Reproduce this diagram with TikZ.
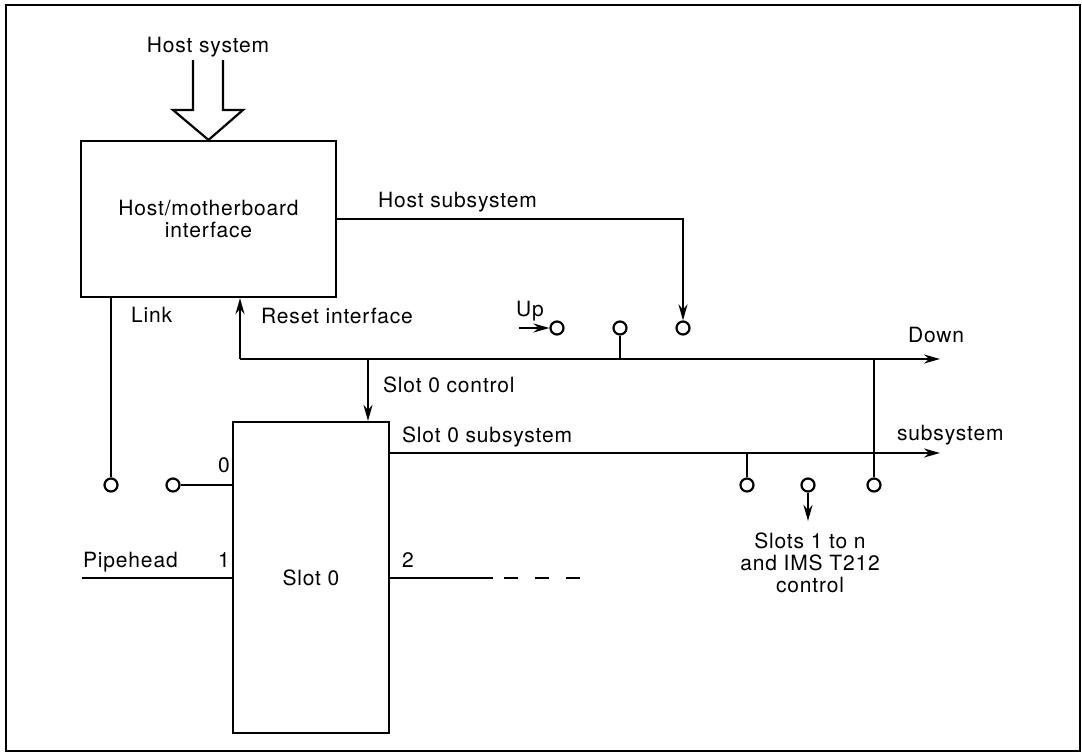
\documentclass[tikz,border=0pt]{standalone}
\usepackage{fontspec}
\setmainfont[LetterSpace=4]{TeX Gyre Heros}
\usetikzlibrary{arrows.meta,positioning}

\begin{document}
\begin{tikzpicture}[x=1pt,y=-1pt,>={Stealth[length=16pt,width=9pt]},line width=2.2pt,
  font=\fontsize{21}{22}\selectfont,
  box/.style={draw,rectangle,inner sep=0pt,align=center},
  term/.style={draw,circle,fill=white,inner sep=0pt,minimum size=13pt},
  lbl/.style={inner sep=0pt,anchor=base west}]
  \useasboundingbox (0,0) rectangle (1082,753);
  \draw[line width=1.8pt] (6,5) rectangle (1080,751);
  % blocks
  \node[box,minimum width=255pt,minimum height=156pt] (host) at (208.5,219) {Host/motherboard\\interface};
  \node[box,minimum width=156pt,minimum height=311pt] (slot) at (311,577.5) {Slot 0};
  % host input
  \node[inner sep=0pt,anchor=base] (hostsys) at (208,52) {Host system};
  \draw[line join=miter] (193,60) -- (193,110) -- (173,110) -- (host.north) -- (243,110) -- (223,110) -- (223,60);
  % terminals
  \node[term] (link) at (111,485) {};
  \node[term] (p0) at (173,485) {};
  \node[term] (up) at (557,328) {};
  \node[term] (tapA) at (620,328) {};
  \node[term] (hsub) at (683,328) {};
  \node[term] (tapB) at (747,485) {};
  \node[term] (tapC) at (808,485) {};
  \node[term] (tapD) at (874,485) {};
  % buses
  \coordinate (downL) at (240,359);
  \coordinate (downR) at (940,359);
  \coordinate (subR) at (940,453);
  \coordinate (ctl) at (368,359);
  \coordinate (upin) at (519,328);
  \coordinate (ctlout) at (808,521);
  \coordinate (pipe) at (82,578);
  \coordinate (p2) at (493,578);
  \draw[->] (downL) -- (downR);
  \draw[->] (downL) -- (host.south -| downL);
  \draw[->] (slot.east |- subR) -- (subR);
  \draw[->] (host.east) -| (hsub);
  \draw (host.south -| link) -- (link);
  \draw[->] (ctl) -- (ctl |- slot.north);
  \draw[->] (upin) -- (up);
  \draw (tapA) -- (tapA |- downL);
  \draw (tapD |- downL) -- (tapD);
  \draw (tapB |- subR) -- (tapB);
  \draw[->] (tapC) -- (ctlout);
  % ports
  \draw (p0) -- (slot.west |- p0);
  \draw (pipe) -- (pipe -| slot.west);
  \draw (slot.east |- p2) -- (p2);
  \draw[dash pattern=on 14pt off 17pt] (504,578) -- (580,578);
  % labels
  \node[lbl] at (377,207) {Host subsystem};
  \node[lbl] at (130,322) {Link};
  \node[lbl] at (260,323) {Reset interface};
  \node[lbl] at (515,316) {Up};
  \node[lbl] at (907,342) {Down};
  \node[lbl] at (382,392) {Slot 0 control};
  \node[lbl] at (401,442) {Slot 0 subsystem};
  \node[lbl] at (896,440) {subsystem};
  \node[lbl] at (217,472) {0};
  \node[lbl] at (82,567) {Pipehead};
  \node[lbl] at (217,567) {1};
  \node[lbl] at (401,567) {2};
  \node[inner sep=0pt,anchor=north,align=center] at (810,532) {Slots 1 to n\\and IMS T212\\control};
\end{tikzpicture}
\end{document}
